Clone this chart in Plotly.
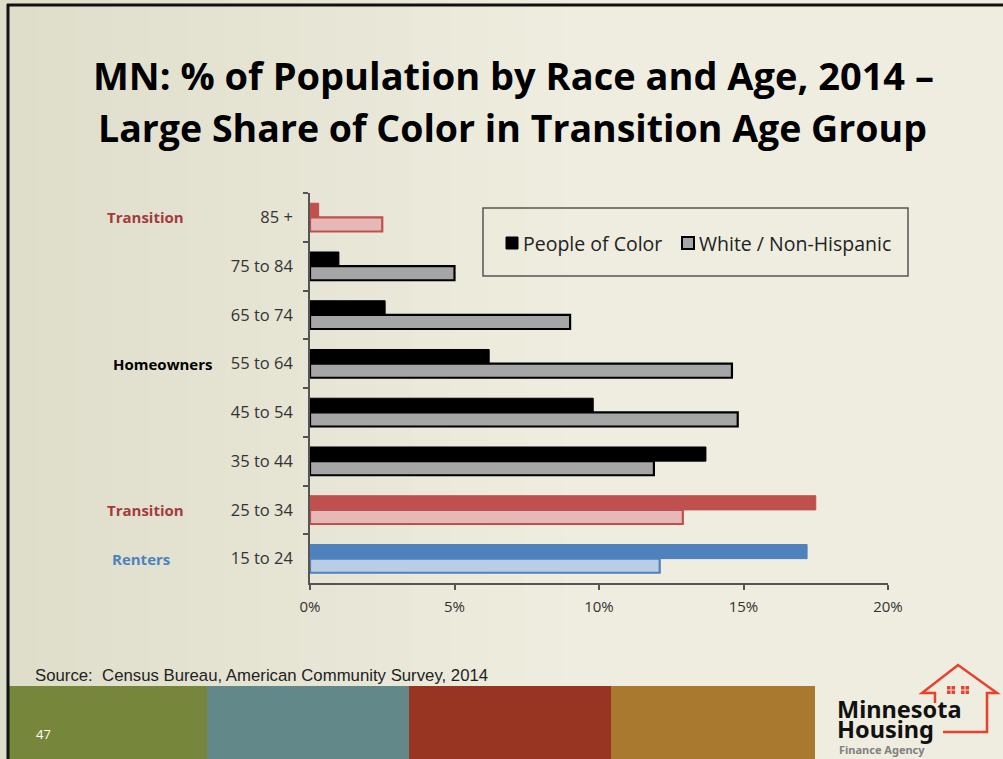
import plotly.graph_objects as go

# ---- data ----
categories = ["85 +", "75 to 84", "65 to 74", "55 to 64", "45 to 54", "35 to 44", "25 to 34", "15 to 24"]
people_of_color = [0.3, 1.0, 2.6, 6.2, 9.8, 13.7, 17.5, 17.2]
white_non_hispanic = [2.5, 5.0, 9.0, 14.6, 14.8, 11.9, 12.9, 12.1]
group_labels = [("85 +", "Transition"), ("55 to 64", "Homeowners"), ("25 to 34", "Transition"), ("15 to 24", "Renters")]
x_ticks = [0, 5, 10, 15, 20]
x_tick_text = ["0%", "5%", "10%", "15%", "20%"]
series_names = ["People of Color", "White / Non-Hispanic"]

# ---- styles ----
RED, RED_L = "#C0504D", "#E6B9B8"
BLUE, BLUE_L = "#4F81BD", "#B9CDE5"
poc_fill = [RED, "#000000", "#000000", "#000000", "#000000", "#000000", RED, BLUE]
white_fill = [RED_L, "#A6A6A6", "#A6A6A6", "#A6A6A6", "#A6A6A6", "#A6A6A6", RED_L, BLUE_L]
white_line = [RED, "#000000", "#000000", "#000000", "#000000", "#000000", RED, BLUE]
group_colors = {"Transition": "#A33B3C", "Homeowners": "#000000", "Renters": "#4F81BD"}

BG = "#ECEBDC"
FONT = "Open Sans"
W, H = 1003, 759
L, R, T, B = 310, 888, 193, 583  # plot area in pixels


def px(x):
    return (x - L) / (R - L)


def py(y):
    return (B - y) / (B - T)


fig = go.Figure()
fig.add_trace(go.Bar(
    y=categories, x=people_of_color, orientation="h", name=series_names[0],
    marker=dict(color=poc_fill, line=dict(color=poc_fill, width=1)), showlegend=False,
))
fig.add_trace(go.Bar(
    y=categories, x=white_non_hispanic, orientation="h", name=series_names[1],
    marker=dict(color=white_fill, line=dict(color=white_line, width=2.2)), showlegend=False,
))

shapes = []
annotations = []

# subtle background gradient (greyer at left)
n_strips = 16
c0 = (0xDF, 0xDE, 0xCB)
c1 = (0xEE, 0xED, 0xDF)
for i in range(n_strips):
    t = i / (n_strips - 1)
    c = tuple(round(a + (b - a) * t) for a, b in zip(c0, c1))
    x0 = i * 600 / n_strips
    x1 = (i + 1) * 600 / n_strips + 1
    shapes.append(dict(type="rect", xref="paper", yref="paper", x0=px(x0), x1=px(x1), y0=py(0), y1=py(760),
                       line=dict(width=0), fillcolor="rgb(%d,%d,%d)" % c, layer="below"))
shapes.append(dict(type="rect", xref="paper", yref="paper", x0=px(600), x1=px(1004), y0=py(0), y1=py(760),
                   line=dict(width=0), fillcolor="rgb(%d,%d,%d)" % c1, layer="below"))

# frame lines
shapes.append(dict(type="line", xref="paper", yref="paper", x0=px(7), x1=px(1003), y0=py(5), y1=py(5),
                   line=dict(color="#111111", width=3)))
shapes.append(dict(type="line", xref="paper", yref="paper", x0=px(8), x1=px(8), y0=py(4), y1=py(759),
                   line=dict(color="#111111", width=3)))

# footer bands
for x0, x1, c in [(9, 207, "#76863A"), (207, 409, "#62888A"), (409, 611, "#973522"), (611, 815, "#A8792E")]:
    shapes.append(dict(type="rect", xref="paper", yref="paper", x0=px(x0), x1=px(x1), y0=py(686), y1=py(760),
                       line=dict(width=0), fillcolor=c, layer="below"))

# legend box
shapes.append(dict(type="rect", xref="paper", yref="paper", x0=px(483), x1=px(908), y0=py(208), y1=py(276),
                   line=dict(color="#555555", width=1.5), fillcolor="rgba(0,0,0,0)"))
shapes.append(dict(type="rect", xref="paper", yref="paper", x0=px(506), x1=px(518), y0=py(237), y1=py(249),
                   line=dict(color="#000000", width=1), fillcolor="#000000"))
shapes.append(dict(type="rect", xref="paper", yref="paper", x0=px(682), x1=px(694), y0=py(237), y1=py(249),
                   line=dict(color="#000000", width=2), fillcolor="#A6A6A6"))
annotations.append(dict(xref="paper", yref="paper", x=px(521), y=py(243), xanchor="left", yanchor="middle",
                        text=series_names[0], showarrow=False, font=dict(family=FONT, size=19.5, color="#222222")))
annotations.append(dict(xref="paper", yref="paper", x=px(697), y=py(243), xanchor="left", yanchor="middle",
                        text=series_names[1], showarrow=False, font=dict(family=FONT, size=19.5, color="#222222")))

# title
annotations.append(dict(xref="paper", yref="paper", x=px(513), y=py(75), xanchor="center", yanchor="middle",
                        text="<b>MN: % of Population by Race and Age, 2014 –</b>", showarrow=False,
                        font=dict(family=FONT, size=38, color="#000000")))
annotations.append(dict(xref="paper", yref="paper", x=px(512), y=py(128), xanchor="center", yanchor="middle",
                        text="<b>Large Share of Color in Transition Age Group</b>", showarrow=False,
                        font=dict(family=FONT, size=37.5, color="#000000")))

# group labels
group_x = {"Transition": 145, "Homeowners": 162, "Renters": 141}
for cat, lab in group_labels:
    annotations.append(dict(xref="paper", yref="y", x=px(group_x[lab]), y=cat, xanchor="center", yanchor="middle",
                            text="<b>" + lab + "</b>", showarrow=False,
                            font=dict(family=FONT, size=15, color=group_colors[lab])))

# source & page number
annotations.append(dict(xref="paper", yref="paper", x=px(33), y=py(675), xanchor="left", yanchor="middle",
                        text="Source:  Census Bureau, American Community Survey, 2014", showarrow=False,
                        font=dict(family="Liberation Sans", size=16.75, color="#222222")))
annotations.append(dict(xref="paper", yref="paper", x=px(34), y=py(734), xanchor="left", yanchor="middle",
                        text="47", showarrow=False, font=dict(family=FONT, size=13, color="#FFFFFF")))

# logo (house outline)
house = [(935, 703), (935, 693), (922, 693), (958, 665), (997, 693), (987, 693), (987, 732), (943, 732)]
path = "M " + " L ".join(f"{px(x):.5f},{py(y):.5f}" for x, y in house)
shapes.append(dict(type="path", xref="paper", yref="paper", path=path, line=dict(color="#E8412C", width=2.5)))
for wx0, wx1 in [(947, 955), (961, 969)]:
    shapes.append(dict(type="rect", xref="paper", yref="paper", x0=px(wx0), x1=px(wx1), y0=py(686), y1=py(694),
                       line=dict(width=0), fillcolor="#E8412C"))
    shapes.append(dict(type="line", xref="paper", yref="paper", x0=px((wx0 + wx1) / 2), x1=px((wx0 + wx1) / 2),
                       y0=py(686), y1=py(694), line=dict(color=BG, width=1)))
    shapes.append(dict(type="line", xref="paper", yref="paper", x0=px(wx0), x1=px(wx1),
                       y0=py(690), y1=py(690), line=dict(color=BG, width=1)))
annotations.append(dict(xref="paper", yref="paper", x=px(835), y=py(709), xanchor="left", yanchor="middle",
                        text="<b>Minnesota</b>", showarrow=False, font=dict(family="Noto Sans", size=23.5, color="#111111")))
annotations.append(dict(xref="paper", yref="paper", x=px(835), y=py(729), xanchor="left", yanchor="middle",
                        text="<b>Housing</b>", showarrow=False, font=dict(family="Noto Sans", size=23.5, color="#111111")))
annotations.append(dict(xref="paper", yref="paper", x=px(837), y=py(749), xanchor="left", yanchor="middle",
                        text="<b>Finance Agency</b>", showarrow=False, font=dict(family="Noto Sans", size=11, color="#808080")))

fig.update_layout(
    width=W, height=H, autosize=False,
    margin=dict(l=L, r=W - R, t=T, b=H - B, pad=0),
    paper_bgcolor=BG, plot_bgcolor="rgba(0,0,0,0)",
    barmode="group", bargap=0.42, bargroupgap=0,
    shapes=shapes, annotations=annotations,
    showlegend=False,
    xaxis=dict(range=[0, 20], tickvals=x_ticks, ticktext=x_tick_text, showgrid=False, zeroline=False,
               showline=True, linecolor="#555555", linewidth=1.5, ticks="outside", ticklen=5,
               tickcolor="#555555", tickwidth=1.5, ticklabelstandoff=4,
               tickfont=dict(family=FONT, size=15, color="#333333")),
    yaxis=dict(type="category", categoryorder="array", categoryarray=categories, autorange="reversed",
               showgrid=False, zeroline=False, showline=True, linecolor="#555555", linewidth=1.5,
               ticks="outside", ticklen=5, tickcolor="#555555", tickwidth=1.5, tickson="boundaries",
               ticklabelstandoff=12,
               tickfont=dict(family=FONT, size=16.5, color="#333333")),
)

fig.write_html("out.html", config={"displayModeBar": False},
               post_script="document.body.style.margin='0';document.body.style.overflow='hidden';")
